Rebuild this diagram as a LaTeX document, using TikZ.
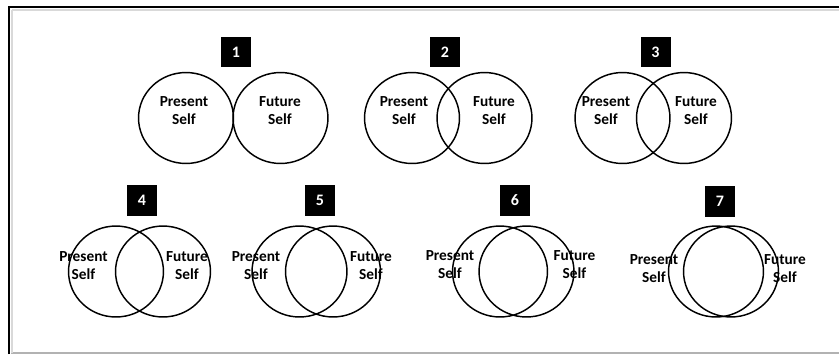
\documentclass[tikz,border=0pt]{standalone}
\usepackage{fontspec}
\setmainfont{Carlito}
\usetikzlibrary{shapes.geometric}
\begin{document}
\begin{tikzpicture}[x=0.75pt,y=-0.75pt,
  selfring/.style={draw=black,line width=1.1pt,ellipse,inner sep=0pt,
    minimum width=71.2pt,minimum height=68.2pt},
  selftext/.style={font=\bfseries\fontsize{11.5}{13.5}\selectfont,align=center,inner sep=0pt},
  numbox/.style={fill=black,text=white,minimum width=22.5pt,minimum height=23pt,inner sep=0pt,
    font=\bfseries\fontsize{12}{14}\selectfont}]
  \useasboundingbox (0,0) rectangle (839,354);
  % frame: dark left and top edges, faint bottom edge
  \draw[gray!60,line width=0.8pt] (11,353) -- (839,353);
  \draw[black!15,line width=1pt] (12,10) -- (839,10);
  \draw[black!15,line width=1pt] (12,10) -- (12,353);
  \draw[black,line width=2pt] (9,354) -- (9,7) -- (839,7);
  % number, centre of left ring, centre of right ring, box x, label x (left/right), row y, box y, label y
  \foreach \n/\lx/\rx/\bx/\pl/\fl/\cy/\by/\ty in {
      1/186/280.5/236/184/280/118/52/111,
      2/412/484.5/445/404/494/118/52/111,
      3/622.5/684/655.5/606/696/118/52/111,
      4/116/163/142/83.5/187/271.5/200.5/266,
      5/299.5/333/320/256/371/271.5/200.5/266,
      6/500/526.5/515/450/574.5/271.5/200.5/265,
      7/716/731/720/654/785/271.5/201.5/268.5}{
    \node[selfring] (present\n) at (\lx,\cy) {};
    \node[selfring] (future\n) at (\rx,\cy) {};
    \node[numbox] (num\n) at (\bx,\by) {\n};
    \node[selftext] (plabel\n) at (\pl,\ty) {Present\\Self};
    \node[selftext] (flabel\n) at (\fl,\ty) {Future\\Self};
  }
\end{tikzpicture}
\end{document}
